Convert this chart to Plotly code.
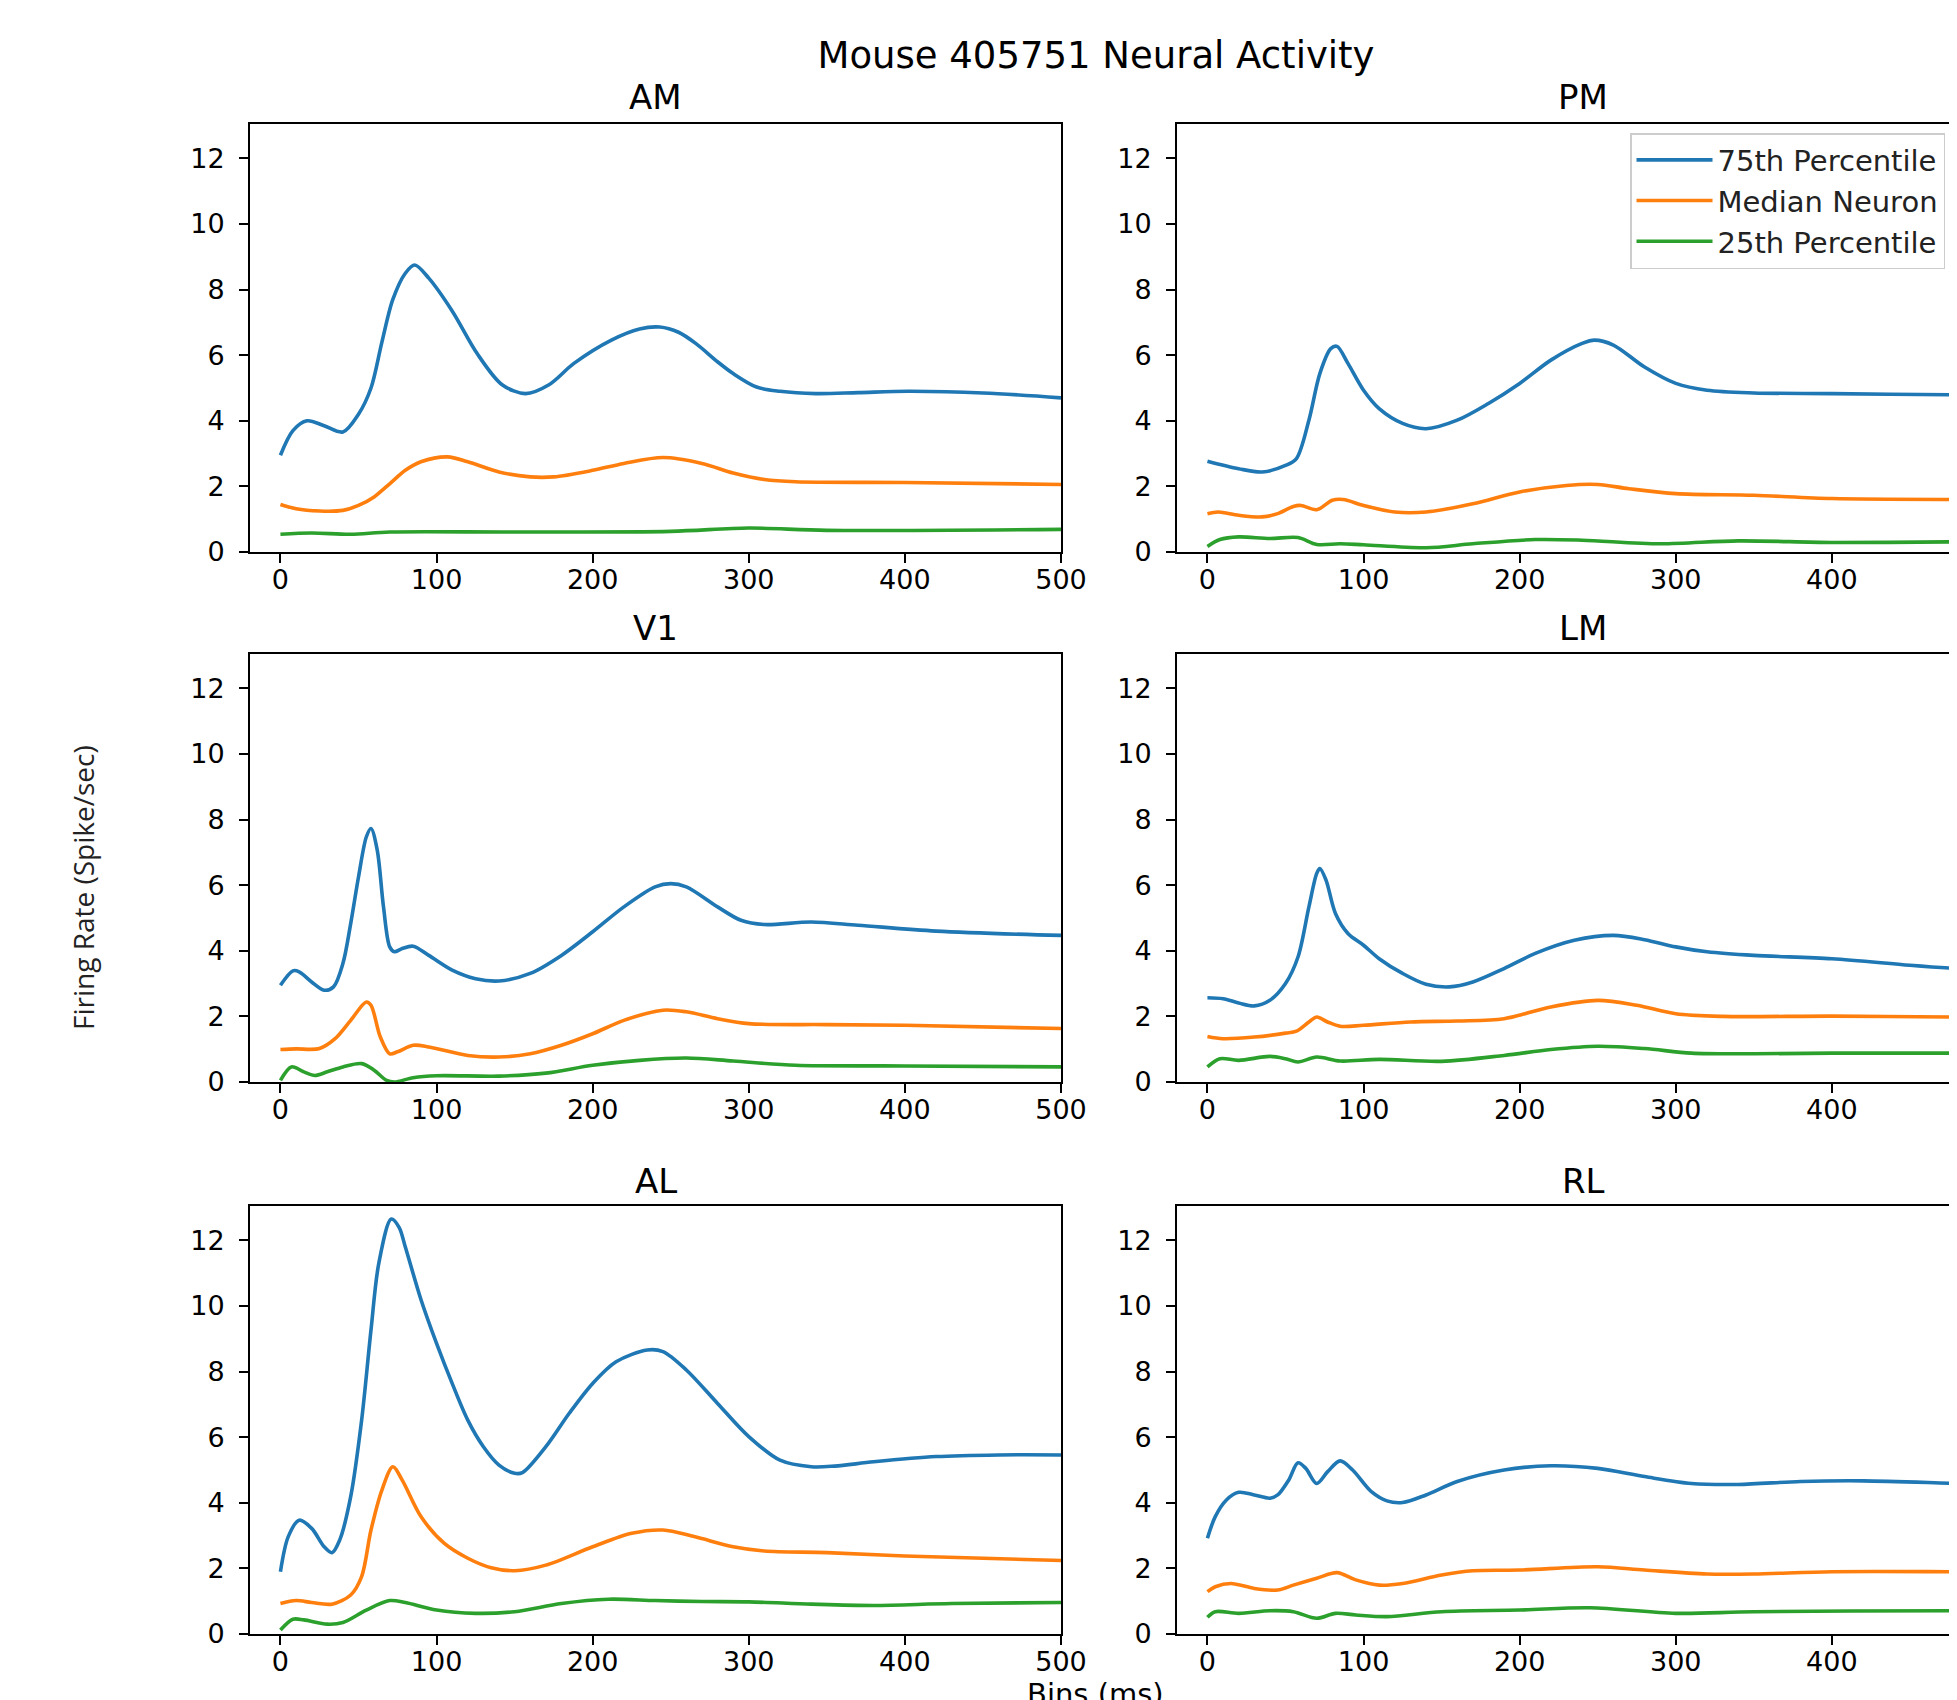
import plotly.graph_objects as go

W, H = 1957, 1700
PAGE_OFFSET = 8  # default body margin of the written html page

fig_title = "Mouse 405751 Neural Activity"
y_label = "Firing Rate (Spike/sec)"
x_label = "Bins (ms)"
areas = ["AM", "PM", "V1", "LM", "AL", "RL"]
series_names = ["75th Percentile", "Median Neuron", "25th Percentile"]
colors = ["#1f77b4", "#ff7f0e", "#2ca02c"]
x_ticks = [0, 100, 200, 300, 400, 500]
y_ticks = [0, 2, 4, 6, 8, 10, 12]

# ---------------- AM ----------------
am_p75_x = [0, 8, 17, 28, 40, 50, 58, 65, 72, 80, 86, 95, 110, 126, 142, 157, 172, 188, 212, 230, 243, 255, 266, 280, 290, 305, 320, 343, 370, 402, 450, 500]
am_p75_y = [2.95, 3.7, 4.0, 3.85, 3.66, 4.2, 5.0, 6.4, 7.7, 8.5, 8.75, 8.35, 7.35, 6.05, 5.1, 4.83, 5.1, 5.75, 6.46, 6.8, 6.86, 6.7, 6.36, 5.8, 5.44, 5.03, 4.9, 4.83, 4.86, 4.9, 4.85, 4.70]
am_p50_x = [0, 10, 25, 40, 50, 60, 70, 80, 90, 107, 120, 140, 160, 175, 200, 220, 245, 270, 290, 310, 330, 400, 500]
am_p50_y = [1.45, 1.32, 1.25, 1.27, 1.42, 1.68, 2.08, 2.49, 2.75, 2.90, 2.75, 2.44, 2.29, 2.29, 2.49, 2.70, 2.88, 2.70, 2.41, 2.21, 2.14, 2.12, 2.06]
am_p25_x = [0, 20, 45, 70, 150, 250, 300, 350, 500]
am_p25_y = [0.54, 0.58, 0.54, 0.61, 0.61, 0.63, 0.73, 0.66, 0.69]

# ---------------- PM ----------------
pm_p75_x = [0, 20, 35, 50, 57, 65, 72, 79, 83, 90, 100, 110, 125, 140, 160, 180, 200, 220, 240, 248, 260, 280, 300, 320, 350, 400, 480, 500]
pm_p75_y = [2.77, 2.54, 2.44, 2.64, 2.85, 4.02, 5.44, 6.2, 6.27, 5.75, 4.93, 4.37, 3.92, 3.76, 4.02, 4.53, 5.14, 5.85, 6.36, 6.46, 6.31, 5.64, 5.14, 4.93, 4.85, 4.83, 4.79, 4.79]
pm_p50_x = [0, 7, 20, 35, 45, 55, 60, 70, 80, 87, 100, 120, 140, 170, 200, 230, 250, 270, 300, 350, 400, 480, 500]
pm_p50_y = [1.17, 1.22, 1.12, 1.07, 1.17, 1.39, 1.42, 1.29, 1.58, 1.60, 1.42, 1.22, 1.22, 1.47, 1.83, 2.03, 2.06, 1.93, 1.78, 1.73, 1.63, 1.60, 1.60]
pm_p25_x = [0, 8, 20, 40, 58, 70, 85, 100, 140, 170, 210, 240, 290, 340, 400, 480, 500]
pm_p25_y = [0.17, 0.38, 0.46, 0.41, 0.44, 0.23, 0.25, 0.22, 0.13, 0.25, 0.38, 0.36, 0.25, 0.34, 0.29, 0.31, 0.31]

# ---------------- V1 ----------------
v1_p75_x = [0, 8, 12, 20, 28, 34, 40, 45, 50, 55, 58, 62, 66, 70, 73, 78, 85, 95, 110, 125, 140, 160, 180, 200, 220, 240, 250, 260, 280, 295, 310, 340, 370, 420, 500]
v1_p75_y = [2.95, 3.39, 3.36, 3.05, 2.80, 2.90, 3.61, 4.83, 6.25, 7.47, 7.73, 7.07, 5.34, 4.12, 3.97, 4.07, 4.14, 3.86, 3.41, 3.15, 3.08, 3.31, 3.86, 4.58, 5.34, 5.95, 6.05, 5.95, 5.34, 4.93, 4.80, 4.88, 4.78, 4.60, 4.47]
v1_p50_x = [0, 10, 25, 35, 45, 55, 58, 64, 70, 75, 85, 95, 120, 140, 160, 180, 200, 220, 245, 260, 280, 300, 350, 400, 500]
v1_p50_y = [0.99, 1.01, 1.02, 1.32, 1.88, 2.44, 2.34, 1.37, 0.86, 0.92, 1.12, 1.07, 0.81, 0.76, 0.86, 1.12, 1.47, 1.88, 2.19, 2.14, 1.93, 1.78, 1.75, 1.73, 1.63]
v1_p25_x = [0, 7, 15, 22, 30, 40, 52, 60, 68, 73, 85, 100, 140, 170, 200, 230, 260, 290, 330, 400, 500]
v1_p25_y = [0.05, 0.46, 0.31, 0.20, 0.31, 0.46, 0.56, 0.36, 0.05, 0.0, 0.13, 0.19, 0.18, 0.27, 0.51, 0.66, 0.73, 0.64, 0.51, 0.49, 0.46]

# ---------------- LM ----------------
lm_p75_x = [0, 10, 20, 30, 40, 50, 58, 65, 70, 72, 76, 82, 90, 100, 110, 125, 140, 155, 170, 190, 210, 235, 260, 280, 300, 320, 350, 400, 450, 480, 500]
lm_p75_y = [2.57, 2.54, 2.41, 2.32, 2.49, 3.00, 3.81, 5.34, 6.36, 6.51, 6.15, 5.14, 4.53, 4.17, 3.76, 3.31, 2.98, 2.90, 3.05, 3.46, 3.92, 4.32, 4.47, 4.34, 4.12, 3.97, 3.86, 3.76, 3.56, 3.46, 3.42]
lm_p50_x = [0, 10, 30, 50, 57, 65, 70, 77, 85, 100, 130, 160, 190, 220, 250, 275, 300, 330, 400, 480, 500]
lm_p50_y = [1.39, 1.32, 1.37, 1.49, 1.55, 1.83, 1.98, 1.83, 1.70, 1.73, 1.83, 1.86, 1.93, 2.29, 2.49, 2.34, 2.08, 2.00, 2.01, 1.98, 1.98]
lm_p25_x = [0, 8, 20, 40, 50, 58, 70, 85, 110, 150, 190, 220, 250, 280, 310, 350, 400, 480, 500]
lm_p25_y = [0.46, 0.71, 0.66, 0.78, 0.71, 0.61, 0.76, 0.64, 0.69, 0.63, 0.81, 0.99, 1.09, 1.02, 0.88, 0.86, 0.88, 0.88, 0.88]

# ---------------- AL ----------------
al_p75_x = [0, 5, 12, 20, 28, 33, 38, 45, 52, 58, 63, 71, 76, 80, 90, 100, 110, 120, 130, 140, 150, 155, 170, 185, 200, 215, 235, 245, 260, 280, 300, 320, 340, 355, 380, 420, 460, 500]
al_p75_y = [1.90, 2.97, 3.47, 3.22, 2.66, 2.48, 2.87, 4.19, 6.52, 9.27, 11.30, 12.65, 12.40, 11.80, 10.20, 8.86, 7.64, 6.52, 5.71, 5.15, 4.90, 4.92, 5.71, 6.73, 7.64, 8.30, 8.66, 8.61, 8.05, 7.03, 6.02, 5.30, 5.10, 5.12, 5.25, 5.41, 5.46, 5.46]
al_p50_x = [0, 10, 20, 33, 45, 52, 58, 65, 72, 78, 90, 105, 120, 135, 150, 170, 200, 225, 245, 265, 290, 310, 350, 400, 500]
al_p50_y = [0.93, 1.02, 0.96, 0.91, 1.19, 1.75, 3.17, 4.39, 5.10, 4.69, 3.58, 2.76, 2.31, 2.02, 1.93, 2.10, 2.66, 3.07, 3.17, 2.97, 2.66, 2.53, 2.48, 2.38, 2.24]
al_p25_x = [0, 8, 15, 30, 40, 55, 70, 80, 100, 125, 150, 180, 210, 240, 270, 300, 340, 380, 430, 500]
al_p25_y = [0.12, 0.45, 0.43, 0.30, 0.35, 0.73, 1.02, 0.96, 0.73, 0.63, 0.68, 0.93, 1.06, 1.02, 0.99, 0.98, 0.91, 0.87, 0.93, 0.96]

# ---------------- RL ----------------
rl_p75_x = [0, 5, 12, 20, 30, 40, 45, 52, 58, 63, 70, 77, 85, 93, 105, 115, 125, 140, 160, 190, 220, 250, 280, 310, 340, 380, 420, 480, 500]
rl_p75_y = [2.92, 3.58, 4.08, 4.32, 4.24, 4.14, 4.24, 4.69, 5.22, 5.05, 4.59, 4.95, 5.28, 5.00, 4.34, 4.06, 4.01, 4.24, 4.65, 5.00, 5.13, 5.05, 4.80, 4.59, 4.56, 4.65, 4.67, 4.59, 4.57]
rl_p50_x = [0, 5, 15, 30, 45, 55, 70, 83, 95, 110, 125, 150, 170, 200, 250, 280, 320, 350, 400, 480, 500]
rl_p50_y = [1.29, 1.44, 1.54, 1.39, 1.34, 1.49, 1.70, 1.87, 1.65, 1.49, 1.54, 1.80, 1.93, 1.95, 2.05, 1.95, 1.83, 1.83, 1.90, 1.90, 1.90]
rl_p25_x = [0, 5, 20, 40, 55, 70, 82, 95, 115, 150, 200, 245, 300, 350, 480, 500]
rl_p25_y = [0.51, 0.68, 0.63, 0.71, 0.68, 0.48, 0.63, 0.58, 0.53, 0.68, 0.73, 0.80, 0.63, 0.68, 0.71, 0.71]

panel_data = {
    "AM": [(am_p75_x, am_p75_y), (am_p50_x, am_p50_y), (am_p25_x, am_p25_y)],
    "PM": [(pm_p75_x, pm_p75_y), (pm_p50_x, pm_p50_y), (pm_p25_x, pm_p25_y)],
    "V1": [(v1_p75_x, v1_p75_y), (v1_p50_x, v1_p50_y), (v1_p25_x, v1_p25_y)],
    "LM": [(lm_p75_x, lm_p75_y), (lm_p50_x, lm_p50_y), (lm_p25_x, lm_p25_y)],
    "AL": [(al_p75_x, al_p75_y), (al_p50_x, al_p50_y), (al_p25_x, al_p25_y)],
    "RL": [(rl_p75_x, rl_p75_y), (rl_p50_x, rl_p50_y), (rl_p25_x, rl_p25_y)],
}

# ---------------- layout helpers (page pixel -> paper) ----------------
def px(x):
    return (x - PAGE_OFFSET) / W

def py(y):
    return 1 - (y - PAGE_OFFSET) / H

VIEW_RIGHT = W  # right edge of the visible window, in page pixels
col_px = [(250, 1061), (1177, VIEW_RIGHT)]
row_px = [(124, 552), (654, 1082), (1206, 1634)]
px_per_unit = 811 / 519.5
x_left = -19.5
x_ranges = [[x_left, 500], [x_left, x_left + (VIEW_RIGHT - 1177) / px_per_unit]]
y_range = [0, 13.05]
title_rows_px = [97, 628, 1181]
title_cols_px = [655.5, 1583]

tick_font = dict(family="DejaVu Sans", size=27, color="black")

fig = go.Figure()
layout_axes = {}
annotations = []

for i, area in enumerate(areas):
    r, c = divmod(i, 2)
    idx = i + 1
    xa = "xaxis" if idx == 1 else f"xaxis{idx}"
    ya = "yaxis" if idx == 1 else f"yaxis{idx}"
    xref = "x" if idx == 1 else f"x{idx}"
    yref = "y" if idx == 1 else f"y{idx}"
    for k, (xs, ys) in enumerate(panel_data[area]):
        fig.add_trace(go.Scatter(
            x=xs, y=ys, mode="lines", name=series_names[k],
            line=dict(color=colors[k], width=3.6, shape="spline", smoothing=0.9),
            xaxis=xref, yaxis=yref, legendgroup=series_names[k],
            showlegend=(area == "PM"),
        ))
    layout_axes[xa] = dict(
        domain=[px(col_px[c][0]), px(col_px[c][1])], range=x_ranges[c],
        anchor=yref, tickvals=x_ticks, ticks="outside", ticklen=9, tickwidth=2,
        tickcolor="black", showline=True, linecolor="black", linewidth=2,
        mirror=True, showgrid=False, zeroline=False, tickfont=tick_font,
        ticklabelstandoff=-6,
    )
    layout_axes[ya] = dict(
        domain=[py(row_px[r][1]), py(row_px[r][0])], range=y_range,
        anchor=xref, tickvals=y_ticks, ticks="outside", ticklen=9, tickwidth=2,
        tickcolor="black", showline=True, linecolor="black", linewidth=2,
        mirror=(c == 0), showgrid=False, zeroline=False, tickfont=tick_font,
        ticklabelstandoff=9,
    )
    annotations.append(dict(
        text=area, x=px(title_cols_px[c]), y=py(title_rows_px[r]),
        xref="paper", yref="paper", xanchor="center", yanchor="middle",
        showarrow=False, font=dict(family="DejaVu Sans", size=34, color="black"),
    ))

annotations.append(dict(
    text=y_label, x=px(83), y=py(888), xref="paper", yref="paper",
    xanchor="center", yanchor="middle", textangle=-90, showarrow=False,
    font=dict(family="Open Sans", size=28, color="#222222"),
))
annotations.append(dict(
    text=x_label, x=px(1095), y=py(1675), xref="paper", yref="paper",
    xanchor="center", yanchor="top", showarrow=False,
    font=dict(family="DejaVu Sans", size=29, color="black"),
))

fig.update_layout(
    width=W, height=H,
    margin=dict(l=0, r=0, t=0, b=0, autoexpand=False),
    paper_bgcolor="white", plot_bgcolor="white",
    title=dict(text=fig_title, x=px(1096), y=py(55), xanchor="center", yanchor="middle",
               font=dict(family="DejaVu Sans", size=37, color="black")),
    legend=dict(x=px(1630), y=py(133), xanchor="left", yanchor="top",
                bgcolor="white", bordercolor="#cccccc", borderwidth=1.5,
                font=dict(family="DejaVu Sans", size=29, color="#222222"),
                itemwidth=76, tracegroupgap=0),
    annotations=annotations,
    **layout_axes,
)

fig.write_html("out.html")
